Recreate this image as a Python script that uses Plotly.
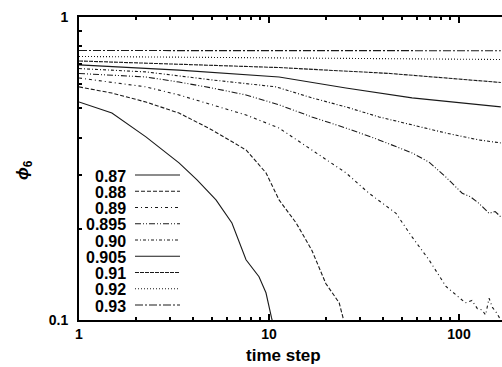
import plotly.graph_objects as go

# ---- data ----
labels = ["0.87", "0.88", "0.89", "0.895", "0.90", "0.905", "0.91", "0.92", "0.93"]

t_087 = [1, 1.49, 2.25, 3.36, 4.18, 5.26, 6.38, 7.57, 8.86, 9.64, 10.3, 10.6]
v_087 = [0.524, 0.482, 0.402, 0.330, 0.290, 0.249, 0.209, 0.158, 0.139, 0.123, 0.102, 0.095]

t_088 = [1, 1.49, 2.25, 3.36, 5.01, 7.57, 9.64, 11.3, 13.9, 16.8, 19.9, 23.4, 24.5, 25.0]
v_088 = [0.588, 0.561, 0.524, 0.482, 0.424, 0.364, 0.306, 0.249, 0.209, 0.170, 0.132, 0.114, 0.102, 0.095]

t_089 = [1, 1.49, 2.25, 3.36, 5.01, 7.57, 11.3, 16.8, 25.4, 33.6, 46.6, 56.6, 69.5, 85.4, 100, 108, 117, 125, 132, 138, 144, 150, 157, 166]
v_089 = [0.629, 0.610, 0.588, 0.553, 0.513, 0.475, 0.430, 0.364, 0.306, 0.262, 0.225, 0.188, 0.158, 0.129, 0.119, 0.114, 0.116, 0.109, 0.108, 0.104, 0.118, 0.110, 0.106, 0.100]

t_0895 = [1, 2.25, 3.36, 5.01, 7.57, 11.3, 16.8, 25.4, 37.9, 56.6, 69.5, 85.4, 104, 115, 127, 144, 155, 166]
v_0895 = [0.651, 0.634, 0.610, 0.583, 0.553, 0.513, 0.468, 0.430, 0.393, 0.356, 0.332, 0.296, 0.262, 0.255, 0.243, 0.225, 0.228, 0.219]

t_090 = [1, 2.25, 5.01, 10.9, 16.8, 25.4, 37.9, 56.6, 85.4, 127, 166]
v_090 = [0.676, 0.659, 0.620, 0.588, 0.541, 0.505, 0.468, 0.440, 0.414, 0.393, 0.384]

t_0905 = [1, 3.36, 11.3, 25.4, 56.6, 127, 166]
v_0905 = [0.695, 0.668, 0.634, 0.583, 0.541, 0.513, 0.505]

t_091 = [1, 3.36, 11.3, 43.4, 166]
v_091 = [0.716, 0.700, 0.681, 0.651, 0.608]

t_092 = [1, 11.3, 166]
v_092 = [0.741, 0.732, 0.724]

t_093 = [1, 11.3, 166]
v_093 = [0.775, 0.775, 0.774]

series_t = [t_087, t_088, t_089, t_0895, t_090, t_0905, t_091, t_092, t_093]
series_v = [v_087, v_088, v_089, v_0895, v_090, v_0905, v_091, v_092, v_093]

x_ticks = [1, 10, 100]
x_ticktext = ["1", "10", "100"]
y_ticks = [0.1, 1]
y_ticktext = ["0.1", "1"]

# ---- styles ----
dashes = ["solid", "4px,2px", "3px,3px,1px,3px", "6px,2px,1px,2px,1px,2px",
          "3px,2px,1px,2px", "solid", "4px,1px", "1px,2px", "8px,2px,2px,2px"]
ink = "#1a1a1a"
FONT = "Liberation Sans, Arial, sans-serif"

W, H = 502, 367
ML, MR, MT, MB = 79, 0, 17, 47
PW, PH = W - ML - MR, H - MT - MB

fig = go.Figure()
for lab, tt, vv, d in zip(labels, series_t, series_v, dashes):
    fig.add_trace(go.Scatter(x=tt, y=vv, mode="lines", name=lab,
                             line=dict(color=ink, width=1.1, dash=d),
                             showlegend=False))

# legend drawn as text + sample line (text left, line right)
def px2paper(xpix, ypix):
    return (xpix - ML) / PW, (H - MB - ypix) / PH

annotations = []
shapes = []
for i, (lab, d) in enumerate(zip(labels, dashes)):
    yy = 176 + 16.25 * i
    xa, ya = px2paper(127, yy)
    annotations.append(dict(x=xa, y=ya, xref="paper", yref="paper", text=lab,
                            showarrow=False, xanchor="right", yanchor="middle",
                            borderpad=0,
                            font=dict(family=FONT, size=16, color="black", weight="bold")))
    x0, yl = px2paper(135, yy - 1)
    x1, _ = px2paper(180, yy - 1)
    shapes.append(dict(type="line", xref="paper", yref="paper", x0=x0, x1=x1,
                       y0=yl, y1=yl, line=dict(color=ink, width=1.1, dash=d)))

# axis titles
xt, yt = px2paper(283, 355)
annotations.append(dict(x=xt, y=yt, xref="paper", yref="paper", text="time step",
                        showarrow=False, xanchor="center", yanchor="middle",
                        font=dict(family=FONT, size=17, color="black", weight="bold")))
xt, yt = px2paper(24, 170)
annotations.append(dict(x=xt, y=yt, xref="paper", yref="paper",
                        text="<i>ϕ</i><sub>6</sub>", textangle=-90,
                        showarrow=False, xanchor="center", yanchor="middle",
                        font=dict(family=FONT, size=17, color="black", weight="bold")))

minor_x = [2, 3, 4, 5, 6, 7, 8, 9, 20, 30, 40, 50, 60, 70, 80, 90, 200]
minor_y = [0.2, 0.3, 0.4, 0.5, 0.6, 0.7, 0.8, 0.9]

tickfont = dict(family=FONT, size=14, color="black", weight="bold")

fig.update_layout(
    width=W, height=H,
    margin=dict(l=ML, r=MR, t=MT, b=MB),
    paper_bgcolor="white", plot_bgcolor="white",
    showlegend=False,
    annotations=annotations, shapes=shapes,
    xaxis=dict(type="log", range=[0, PW / 190.0], tickmode="array",
               tickvals=x_ticks, ticktext=x_ticktext, ticks="inside", ticklen=6,
               tickwidth=1.5, tickcolor="black",
               showline=True, linecolor="black", linewidth=2, mirror="ticks",
               showgrid=False, zeroline=False,
               tickfont=tickfont,
               minor=dict(tickmode="array", tickvals=minor_x, ticks="inside",
                          ticklen=3, tickcolor="black", showgrid=False)),
    yaxis=dict(type="log", range=[-1, 0], tickmode="array",
               tickvals=y_ticks, ticktext=y_ticktext, ticks="inside", ticklen=6,
               tickwidth=1.5, tickcolor="black",
               showline=True, linecolor="black", linewidth=2, mirror=False,
               showgrid=False, zeroline=False,
               tickfont=tickfont,
               ticklabelstandoff=6,
               minor=dict(tickmode="array", tickvals=minor_y, ticks="inside",
                          ticklen=3, tickcolor="black", showgrid=False)),
)

fig.write_html("out.html")
